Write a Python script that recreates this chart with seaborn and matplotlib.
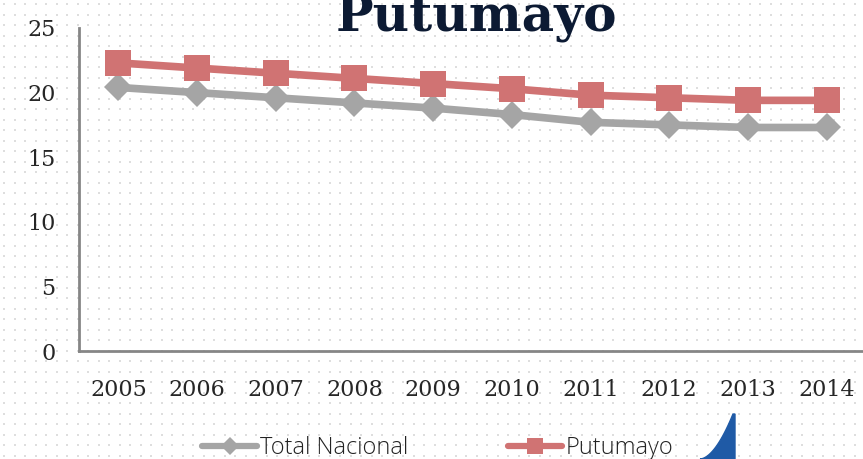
import matplotlib
matplotlib.use("Agg")
import matplotlib.pyplot as plt
from matplotlib.patches import Polygon
import seaborn as sns
import pandas as pd
import numpy as np

# data
years = ["2005", "2006", "2007", "2008", "2009", "2010", "2011", "2012", "2013", "2014"]
total_nacional = [20.4, 20.0, 19.6, 19.2, 18.8, 18.3, 17.7, 17.5, 17.3, 17.3]
putumayo = [22.3, 21.9, 21.5, 21.1, 20.7, 20.3, 19.8, 19.6, 19.4, 19.4]
series_names = ["Total Nacional", "Putumayo"]

df = pd.DataFrame({
    "year": years * 2,
    "value": total_nacional + putumayo,
    "series": [series_names[0]] * len(years) + [series_names[1]] * len(years),
})

sns.set_theme(style="white")
plt.rcParams["font.family"] = ["DejaVu Serif"]

fig = plt.figure(figsize=(8.63, 4.59), dpi=100)
fig.patch.set_facecolor("white")

# dotted background texture
bg = fig.add_axes([0, 0, 1, 1], zorder=-5)
gx, gy = np.meshgrid(np.arange(4, 863, 10.5), np.arange(4, 459, 10.5))
bg.scatter(gx.ravel(), gy.ravel(), s=4, marker="s", color="#dedede", linewidths=0)
bg.set_xlim(0, 863)
bg.set_ylim(459, 0)
bg.axis("off")

ax = fig.add_axes([79 / 863, 1 - 351 / 459, (866 - 79) / 863, (351 - 28) / 459])
ax.patch.set_alpha(0)

palette = {"Total Nacional": "#a5a5a5", "Putumayo": "#d07373"}
markers = {"Total Nacional": "D", "Putumayo": "s"}

sns.lineplot(data=df, x="year", y="value", hue="series", style="series",
             palette=palette, markers=markers, dashes=False, linewidth=5.5,
             markersize=18.5, markeredgewidth=0, ax=ax, sort=False)
# diamonds read smaller than the squares
for line in ax.lines:
    if line.get_marker() == "D":
        line.set_markersize(14)

ax.set_xlim(-0.5, 9.5)
ax.set_ylim(0, 25)
ax.set_yticks([0, 5, 10, 15, 20, 25])
ax.set_yticklabels(["0", "5", "10", "15", "20", "25"], ha="right")
ax.set_xticks(np.arange(-0.5, 10, 1), minor=False)
ax.set_xticklabels([])
ax.set_xticks(range(len(years)), minor=True)
ax.set_xticklabels(years, minor=True)
ax.tick_params(axis="x", which="minor", length=0, pad=20, labelsize=16)
ax.tick_params(axis="x", which="major", length=5, width=2, color="#868686", direction="out")
ax.tick_params(axis="y", length=5, width=2, color="#868686", direction="out", pad=12, labelsize=16)
ax.set_xlabel("")
ax.set_ylabel("")

for side in ["top", "right"]:
    ax.spines[side].set_visible(False)
for side in ["left", "bottom"]:
    ax.spines[side].set_color("#868686")
    ax.spines[side].set_linewidth(2)

fig.text(0.552, 0.962, "Putumayo", ha="center", va="center", fontsize=36,
         fontweight="bold", color="#0c1a33", family=["DejaVu Serif"])

handles, labels = ax.get_legend_handles_labels()
leg = ax.legend(handles, labels, loc="center", bbox_to_anchor=(0.456, -0.3), ncol=2,
                frameon=False, handlelength=2.3, columnspacing=4.2, handletextpad=0.15,
                prop={"family": "Open Sans", "size": 17, "weight": "light"})
for h in leg.legend_handles:
    h.set_linewidth(4.5)
    h.set_markersize(11 if h.get_marker() == "s" else 9)
for t in leg.get_texts():
    t.set_color("#222222")

# decorative blue swoosh in the lower right corner
tt = np.linspace(0, 1, 20)
curve = [[(700 + 33 * t) / 863, 1 - (459 - 45 * t ** 1.8) / 459] for t in tt]
fig.patches.append(Polygon(curve + [[735 / 863, 1 - 414 / 459], [735 / 863, 0]],
                           closed=True, transform=fig.transFigure, color="#1f5aa6", zorder=5))

fig.savefig("out.png", dpi=100)
